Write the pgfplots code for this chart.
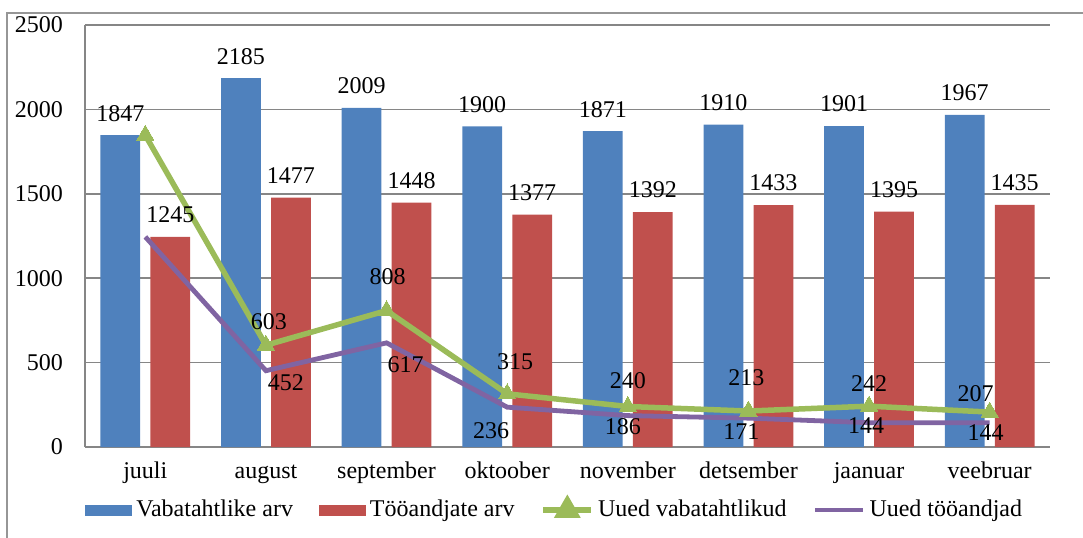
\documentclass[border=0pt]{standalone}
\usepackage{fontspec}
\setmainfont{Liberation Serif}
\usepackage{pgfplots}
\usepackage{pgfplotstable}
\pgfplotsset{compat=1.18}
\definecolor{cblue}{RGB}{79,129,189}
\definecolor{cred}{RGB}{192,80,77}
\definecolor{cgreen}{RGB}{155,187,89}
\definecolor{cpurple}{RGB}{128,100,162}
\definecolor{cgrid}{RGB}{134,134,134}
\definecolor{cborder}{RGB}{150,150,150}

\pgfplotstableread{
x y
0 1847
1 2185
2 2009
3 1900
4 1871
5 1910
6 1901
7 1967
}\vab
\pgfplotstableread{
x y
0 1245
1 1477
2 1448
3 1377
4 1392
5 1433
6 1395
7 1435
}\too
\pgfplotstableread{
x y dx dy
0 1847 0 0
1 603 1.5 12
2 808 0.5 17
3 315 4 16
4 240 0 13
5 213 -1 16.5
6 242 0 11.5
7 207 -7 9
}\uvab
\pgfplotstableread{
x y dx dy
0 1245 0 0
1 452 10 -6
2 617 9.5 -11
3 236 -8 -12
4 186 -2.5 -5.5
5 171 -3.5 -6.5
6 144 -1.5 -1.5
7 144 -2 -5
}\utoo

\begin{document}
\begin{tikzpicture}[font=\fontsize{12}{14}\selectfont]
\useasboundingbox (-42.5pt,-45pt) rectangle (499pt,223.5pt);
\draw[cborder, line width=0.8pt] (-39pt,-60pt) -- (-39pt,217pt) -- (520pt,217pt);
\begin{axis}[
  scale only axis,
  width=482.5pt, height=211pt,
  xmin=-0.5, xmax=7.5,
  ymin=0, ymax=2500,
  ytick={0,500,...,2500},
  xtick={0,...,7},
  xticklabels={juuli,august,september,oktoober,november,detsember,jaanuar,veebruar},
  /pgf/number format/1000 sep={},
  /pgf/number format/assume math mode=true,
  major tick length=0pt,
  axis x line*=bottom, axis y line*=left,
  axis line style={-, cgrid, line width=0.8pt},
  ymajorgrids,
  grid style={cgrid, line width=0.8pt},
  tick label style={font=\fontsize{12}{14}\selectfont},
  xticklabel style={text height=8.5pt, text depth=2.5pt, yshift=-3.5pt},
  yticklabel style={xshift=-7.5pt},
  legend columns=4,
  legend cell align=left,
  legend style={at={(axis description cs:0,0)}, anchor=west, yshift=-31.5pt,
    draw=none, fill=none, inner sep=0pt, font=\fontsize{12}{14}\selectfont,
    /tikz/every even column/.append style={column sep=11pt}},
]
\addplot[ybar, bar width=0.33, bar shift=-0.207, fill=cblue, draw=none,
  nodes near coords, nodes near coords style={anchor=center, xshift=-12.5pt, yshift=11pt, text=black},
  legend image code/.code={\fill[cblue] (0pt,-2.75pt) rectangle (23.5pt,2.75pt);}]
  table[x=x,y=y] {\vab};
\addlegendentry{Vabatahtlike arv}
\addplot[ybar, bar width=0.33, bar shift=0.207, fill=cred, draw=none,
  nodes near coords, nodes near coords style={anchor=center, xshift=12.5pt, yshift=11pt, text=black},
  legend image code/.code={\fill[cred] (0pt,-2.75pt) rectangle (23.5pt,2.75pt);}]
  table[x=x,y=y] {\too};
\addlegendentry{Tööandjate arv}
\addplot[cgreen, line width=2.75pt, mark=triangle*, mark size=5pt,
  mark options={line width=0pt, fill=cgreen},
  legend image code/.code={\draw[cgreen, line width=2.75pt] (0pt,0pt) -- (24pt,0pt);
     \fill[cgreen] (12pt,5pt) -- (16.3pt,-2.5pt) -- (7.7pt,-2.5pt) -- cycle;}]
  table[x=x,y=y] {\uvab};
\addlegendentry{Uued vabatahtlikud}
\addplot[cpurple, line width=2.4pt,
  legend image code/.code={\draw[cpurple, line width=2.4pt] (0pt,0pt) -- (24pt,0pt);}]
  table[x=x,y=y] {\utoo};
\addlegendentry{Uued tööandjad}
\addplot[draw=none, forget plot, skip coords between index={0}{1},
  point meta=y, nodes near coords,
  visualization depends on={\thisrow{dx}\as\dx},
  visualization depends on={\thisrow{dy}\as\dy},
  nodes near coords style={anchor=center, xshift={\dx*1pt}, yshift={\dy*1pt}, text=black}]
  table[x=x,y=y] {\uvab};
\addplot[draw=none, forget plot, skip coords between index={0}{1},
  point meta=y, nodes near coords,
  visualization depends on={\thisrow{dx}\as\dx},
  visualization depends on={\thisrow{dy}\as\dy},
  nodes near coords style={anchor=center, xshift={\dx*1pt}, yshift={\dy*1pt}, text=black}]
  table[x=x,y=y] {\utoo};
\end{axis}
\end{tikzpicture}
\end{document}
